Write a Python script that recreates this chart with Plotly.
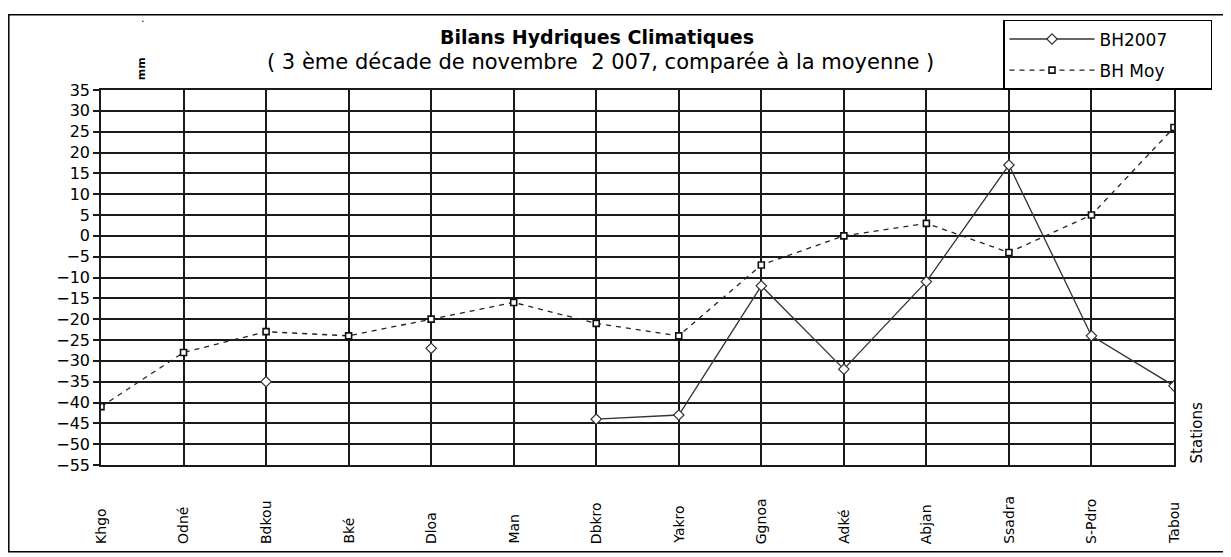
import plotly.graph_objects as go

stations = ["Khgo", "Odné", "Bdkou", "Bké", "Dloa", "Man", "Dbkro", "Yakro",
            "Ggnoa", "Adké", "Abjan", "Ssadra", "S-Pdro", "Tabou"]
bh2007 = [None, None, -35, None, -27, None, -44, -43, -12, -32, -11, 17, -24, -36]
bh_moy = [-41, -28, -23, -24, -20, -16, -21, -24, -7, 0, 3, -4, 5, 26]
y_ticks = list(range(-55, 36, 5))

FONT = "DejaVu Sans"
NB = "\u00a0"
xs = list(range(len(stations)))

fig = go.Figure()
fig.add_trace(go.Scatter(
    x=xs, y=bh2007, name="BH2007" + NB * 7, mode="lines+markers", connectgaps=False,
    line=dict(color="#333333", width=1.3),
    marker=dict(symbol="diamond", size=8, color="white", line=dict(color="#333333", width=1.2)),
    legendgroup="a"))
fig.add_trace(go.Scatter(
    x=xs, y=bh_moy, name="BH Moy" + NB * 7, mode="lines+markers",
    line=dict(color="#222222", width=1.3, dash="5px,5px"),
    marker=dict(symbol="square", size=6, color="white", line=dict(color="#111111", width=1.6)),
    legendgroup="b"))

OFF = 8  # page body margin in the browser
W, H = 1231 - OFF, 557 - OFF
L, T = 101 - OFF, 85 - OFF
pw, ph = 1073, 380
R, B = W - L - pw, H - T - ph

def px(xpix):
    return (xpix - OFF - L) / pw

def py(ypix):
    return (T + ph - (ypix - OFF)) / ph

annotations = [
    dict(text="<b>Bilans Hydriques Climatiques</b>", x=px(597), y=py(31), xref="paper", yref="paper",
         showarrow=False, font=dict(family=FONT, size=19, color="black"), xanchor="center", yanchor="middle"),
    dict(text="( 3 ème décade de novembre  2 007, comparée à la moyenne )", x=px(600), y=py(57),
         xref="paper", yref="paper", showarrow=False, font=dict(family=FONT, size=21, color="black"),
         xanchor="center", yanchor="middle"),
    dict(text="<b>mm</b>", x=px(141), y=py(64), xref="paper", yref="paper", showarrow=False, textangle=-90,
         font=dict(family=FONT, size=11, color="black"), xanchor="center", yanchor="middle"),
    dict(text=".", x=px(143), y=py(13), xref="paper", yref="paper", showarrow=False,
         font=dict(family=FONT, size=11, color="black"), xanchor="center", yanchor="middle"),
    dict(text="Stations", x=px(1197), y=py(433), xref="paper", yref="paper", showarrow=False, textangle=-90,
         font=dict(family=FONT, size=15, color="black"), xanchor="center", yanchor="middle"),
]
for i, s in enumerate(stations):
    annotations.append(dict(text=s, x=i, xref="x", y=py(547), yref="paper", showarrow=False,
                            textangle=-90, xanchor="center", yanchor="bottom",
                            font=dict(family=FONT, size=14, color="black")))

fig.update_layout(
    width=W, height=H,
    margin=dict(l=L, r=R, t=T, b=B),
    paper_bgcolor="white", plot_bgcolor="white",
    font=dict(family=FONT, color="black"),
    showlegend=True,
    legend=dict(x=px(1003), y=py(14), xanchor="left", yanchor="top",
                bgcolor="white", bordercolor="black", borderwidth=1.5,
                font=dict(family=FONT, size=17, color="black"),
                traceorder="grouped", tracegroupgap=6, itemwidth=85),
    annotations=annotations,
    shapes=[dict(type="rect", xref="paper", yref="paper", x0=px(8.8), x1=px(1224), y0=py(553), y1=py(8.8),
                 line=dict(color="black", width=1.5), layer="below")],
)
fig.update_xaxes(range=[0, len(stations) - 1], tickvals=xs, showticklabels=False, ticks="",
                 showgrid=True, gridcolor="#1a1a1a", gridwidth=1.6, zeroline=False,
                 showline=True, linecolor="#1a1a1a", linewidth=1.6, mirror=True)
fig.update_yaxes(range=[-55, 35], tickvals=y_ticks, ticks="outside", ticklen=6, tickcolor="#1a1a1a",
                 tickwidth=1.6, showgrid=True, gridcolor="#1a1a1a", gridwidth=1.6, zeroline=False,
                 showline=True, linecolor="#1a1a1a", linewidth=1.6, mirror=True,
                 tickfont=dict(family=FONT, size=16, color="black"))

fig.write_html("out.html")
